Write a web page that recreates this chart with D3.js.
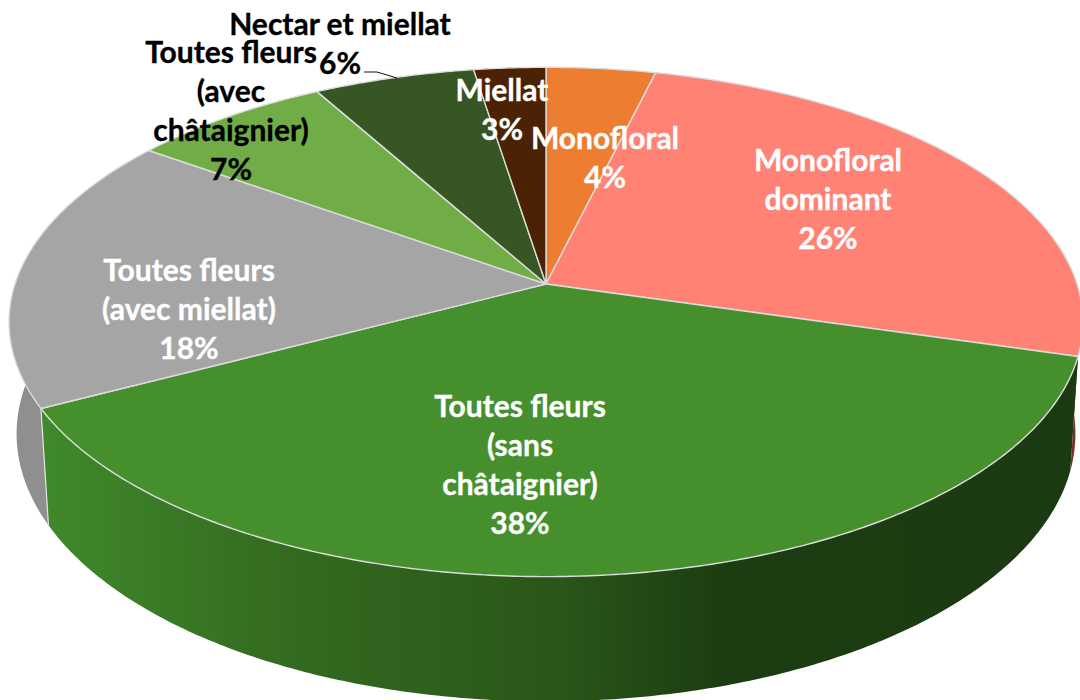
<!DOCTYPE html>
<html>
<head>
<meta charset="utf-8">
<script src="https://cdn.jsdelivr.net/npm/d3@7"></script>
<style>
html, body { margin: 0; padding: 0; background: #fff; }
svg { display: block; }
text { font-family: Lato, "Open Sans", sans-serif; font-weight: 700; font-size: 30px; stroke-width: 0.35px; }
</style>
</head>
<body>
<div id="chart"></div>
<script>
// Values (rim angles), the printed % are the rounded ones
var categories = ["Monofloral", "Monofloral dominant", "Toutes fleurs (sans châtaignier)",
    "Toutes fleurs (avec miellat)", "Toutes fleurs (avec châtaignier)", "Nectar et miellat", "Miellat"];
var values = [3.8, 25.7, 37.8, 17.6, 7.0, 5.6, 2.5];
var colors = ["#ed7d31", "#ff8274", "#45902c", "#a5a5a5", "#70ad47", "#375623", "#4b2304"];
var wallColors = ["#8a4a1f", "#7a2f2a", "url(#greenWall)", "#8f8f8f", "#4f7a32", "#26391a", "#331702"];
var labelLines = [["Monofloral"], ["Monofloral", "dominant"], ["Toutes fleurs", "(sans", "châtaignier)"],
    ["Toutes fleurs", "(avec miellat)"], ["Toutes fleurs", "(avec", "châtaignier)"], ["Nectar et miellat"], ["Miellat"]];
var labelColors = ["#fff", "#fff", "#fff", "#fff", "#000", "#000", "#fff"];

var width = 1080, height = 700;

// layout of the labels, [center x, middle of first line]
var labelAnchors = [[605, 138], [828, 160], [520, 406], [189, 270], [231, 52], [340, 24], [502, 90]];
var lineStep = 39;

// perspective of the disc
var cx = 546, cy = 284, rx = 531, ry = 249, tilt = 0.149;
var depth = 112, shrink = 0.014;

function project(angle, drop){
    var u = Math.sin(angle), v = -Math.cos(angle);
    var w = 1 - tilt * v + (drop ? shrink : 0);
    return [cx + rx * u / w, cy + (ry * v + (drop ? depth : 0)) / w];
}

function rim(a0, a1, drop){
    var n = Math.max(2, Math.ceil((a1 - a0) / 0.01));
    return d3.range(n + 1).map(function(i){
	return project(a0 + (a1 - a0) * i / n, drop);
    });
}

var svg = d3.select("#chart").append("svg")
    .attr("width", width)
    .attr("height", height);

var grad = svg.append("defs").append("linearGradient")
    .attr("id", "greenWall")
    .attr("gradientUnits", "userSpaceOnUse")
    .attr("x1", 41).attr("x2", 1080).attr("y1", 0).attr("y2", 0);
[[0, "#40892c"], [0.25, "#33691f"], [0.5, "#2a5619"], [0.66, "#1c3c11"], [1, "#1b3a11"]].forEach(function(s){
    grad.append("stop").attr("offset", s[0]).attr("stop-color", s[1]);
});

var arcs = d3.pie().sort(null).value(function(d){ return d; })(values);
var line = d3.line();

// walls first, the green one last because it is in front
var wallOrder = [6, 5, 4, 0, 1, 3, 2];
wallOrder.forEach(function(i){
    var a = arcs[i];
    var pts = rim(a.startAngle, a.endAngle, false)
	.concat(rim(a.startAngle, a.endAngle, true).reverse());
    svg.append("path")
	.attr("d", line(pts) + "Z")
	.attr("fill", wallColors[i]);
});

// white edge between grey and green wall
var edge = arcs[2].endAngle;
svg.append("path")
    .attr("d", line([project(edge, false), project(edge, true)]))
    .attr("stroke", "#e4e4e4")
    .attr("stroke-width", 1.2)
    .attr("fill", "none");

// top faces
arcs.forEach(function(a, i){
    var pts = [[cx, cy]].concat(rim(a.startAngle, a.endAngle, false));
    svg.append("path")
	.attr("d", line(pts) + "Z")
	.attr("fill", colors[i])
	.attr("stroke", "#dcdcdc")
	.attr("stroke-width", 1.4)
	.attr("stroke-linejoin", "round");
});

// leader of the Nectar label
svg.append("path")
    .attr("d", line([[364, 72], [377, 72], [397, 78]]))
    .attr("fill", "none")
    .attr("stroke", "#111")
    .attr("stroke-width", 1);

// labels
categories.forEach(function(c, i){
    var lines = labelLines[i].concat([Math.round(values[i]) + "%"]);
    var t = svg.append("text")
	.attr("text-anchor", "middle")
	.attr("fill", labelColors[i])
	.attr("stroke", labelColors[i]);
    lines.forEach(function(l, j){
	t.append("tspan")
	    .attr("x", labelAnchors[i][0])
	    .attr("y", labelAnchors[i][1] + j * lineStep)
	    .attr("dy", "0.36em")
	    .text(l);
    });
});
</script>
</body>
</html>
